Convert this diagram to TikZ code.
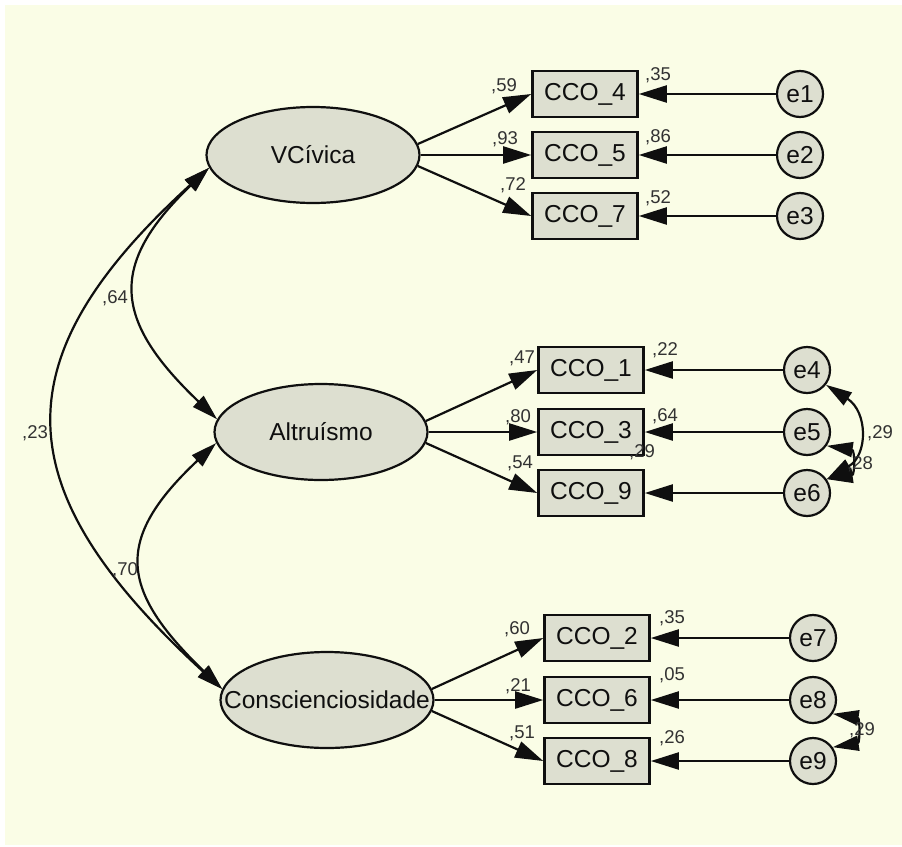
\documentclass[tikz,border=0pt]{standalone}
\usepackage{fontspec}
\setmainfont{Liberation Sans}
\usetikzlibrary{arrows.meta,shapes.geometric}
\definecolor{bgc}{RGB}{250,253,230}
\definecolor{shade}{RGB}{221,223,208}
\definecolor{numc}{RGB}{50,50,50}
\definecolor{inkc}{RGB}{15,15,15}
\newcommand\bigf{\fontsize{24.5}{28}\selectfont}
\newcommand\numf{\fontsize{18.5}{20}\selectfont}
\tikzset{
  latent/.style={ellipse, draw=inkc, line width=2.2pt, fill=shade, minimum width=213pt, minimum height=96pt, inner sep=0pt},
  lattext/.style={font=\bigf, text=inkc, inner sep=0pt},
  obs/.style={rectangle, draw=inkc, line width=2.6pt, fill=shade, minimum width=105pt, minimum height=46pt, inner sep=0pt, font=\bigf, text=inkc},
  err/.style={circle, draw=inkc, line width=2.2pt, fill=shade, minimum size=46pt, inner sep=0pt, font=\bigf, text=inkc},
  num/.style={font=\numf, text=numc, inner sep=0pt},
  load/.style={draw=inkc, line width=2.2pt, -{Triangle[length=28pt,width=17pt]}},
  cov/.style={draw=inkc, line width=2.2pt, {Triangle[length=26pt,width=15pt]}-{Triangle[length=26pt,width=15pt]}}
}
\begin{document}
\begin{tikzpicture}[x=1pt,y=-1pt]
\useasboundingbox (0,0) rectangle (902,846);
\fill[bgc] (5,5) rectangle (902,845);

% latent variables
\node[latent, label={[lattext]center:VCívica}] (V) at (313,155) {};
\node[latent, label={[lattext]center:Altruísmo}] (A) at (321,432) {};
\node[latent, label={[lattext]center:Conscienciosidade}] (C) at (327,700) {};

% observed group 1
\node[obs] (c4) at (585,94) {CCO\_4};
\node[obs] (c5) at (585,155) {CCO\_5};
\node[obs] (c7) at (585,216) {CCO\_7};
\node[err] (e1) at (800,94) {e1};
\node[err] (e2) at (800,155) {e2};
\node[err] (e3) at (800,216) {e3};

% observed group 2
\node[obs] (c1) at (591,370) {CCO\_1};
\node[obs] (c3) at (591,432) {CCO\_3};
\node[obs] (c9) at (591,493) {CCO\_9};
\node[err] (e4) at (807,370) {e4};
\node[err] (e5) at (807,432) {e5};
\node[err] (e6) at (807,493) {e6};

% observed group 3
\node[obs] (c2) at (597,638) {CCO\_2};
\node[obs] (c6) at (597,700) {CCO\_6};
\node[obs] (c8) at (597,761) {CCO\_8};
\node[err] (e7) at (813,638) {e7};
\node[err] (e8) at (813,700) {e8};
\node[err] (e9) at (813,761) {e9};

% loadings
\draw[load] (V.6) -- (c4.west);
\draw[load] (V.east) -- (c5.west);
\draw[load] (V.-6) -- (c7.west);
\draw[load] (A.6) -- (c1.west);
\draw[load] (A.east) -- (c3.west);
\draw[load] (A.-6) -- (c9.west);
\draw[load] (C.6) -- (c2.west);
\draw[load] (C.east) -- (c6.west);
\draw[load] (C.-6) -- (c8.west);

% errors
\draw[load] (e1) -- (c4);
\draw[load] (e2) -- (c5);
\draw[load] (e3) -- (c7);
\draw[load] (e4) -- (c1);
\draw[load] (e5) -- (c3);
\draw[load] (e6) -- (c9);
\draw[load] (e7) -- (c2);
\draw[load] (e8) -- (c6);
\draw[load] (e9) -- (c8);

% latent covariances
\draw[cov] (V.187) .. controls (108,265) and (113,320) .. (A.173);
\draw[cov] (A.186) .. controls (113,540) and (120,590) .. (C.174);
\draw[cov] (V.187) .. controls (-2,360) and (5,490) .. (C.174);

% error covariances
\draw[cov] (e4.-38) .. controls (868,412) and (868,455) .. (e6.35);
\draw[cov] (e5.-35) .. controls (855,450) and (855,475) .. (e6.35);
\draw[cov] (e8.-35) .. controls (860,718) and (860,743) .. (e9.35);

% numbers
\node[num] (n59) at (504,86) {,59};
\node[num] (n93) at (505,139) {,93};
\node[num] (n72) at (513,185) {,72};
\node[num] (r35a) at (658,75) {,35};
\node[num] (r86) at (658,137) {,86};
\node[num] (r52) at (658,198) {,52};

\node[num] (n47) at (522,358) {,47};
\node[num] (n80) at (518,417) {,80};
\node[num] (n54) at (520,463) {,54};
\node[num] (r22) at (665,350) {,22};
\node[num] (r64) at (665,416) {,64};
\node[num] (r29a) at (642,452) {,29};
\node[num] (k29) at (880,433) {,29};
\node[num] (k28) at (860,464) {,28};

\node[num] (n60) at (517,629) {,60};
\node[num] (n21) at (518,686) {,21};
\node[num] (n51) at (522,733) {,51};
\node[num] (r35b) at (672,618) {,35};
\node[num] (r05) at (672,675) {,05};
\node[num] (r26) at (672,738) {,26};
\node[num] (k29b) at (862,730) {,29};

\node[num] (l64) at (115,298) {,64};
\node[num] (l23) at (35,433) {,23};
\node[num] (l70) at (125,570) {,70};
\end{tikzpicture}
\end{document}
